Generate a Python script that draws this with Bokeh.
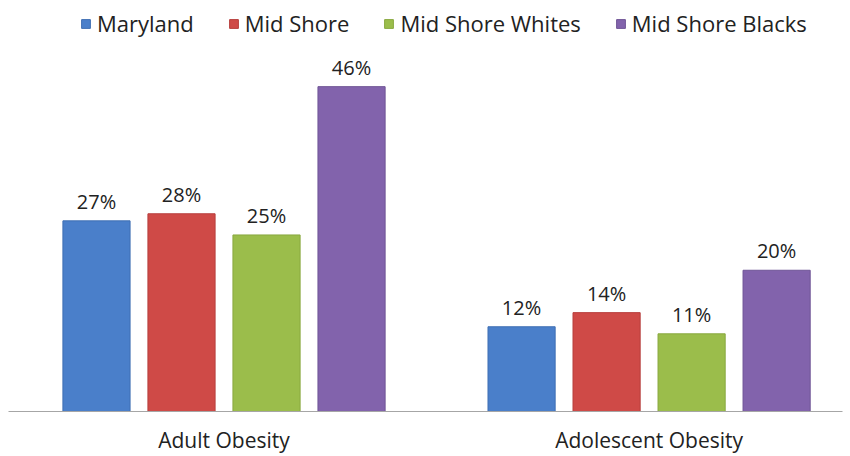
from bokeh.plotting import figure
from bokeh.models import ColumnDataSource, Range1d, FixedTicker, Legend, LegendItem, LabelSet
from bokeh.transform import dodge
from bokeh.core.properties import value
from bokeh.embed import file_html
from bokeh.resources import INLINE

categories = ["Adult Obesity", "Adolescent Obesity"]
series = ["Maryland", "Mid Shore", "Mid Shore Whites", "Mid Shore Blacks"]
maryland = [27, 12]
mid_shore = [28, 14]
mid_shore_whites = [25, 11]
mid_shore_blacks = [46, 20]
values = [maryland, mid_shore, mid_shore_whites, mid_shore_blacks]
colors = ["#4a7fca", "#cf4a47", "#9bbd4b", "#8263ac"]
line_colors = ["#3f6fb3", "#b73e3c", "#89a83f", "#6f5496"]
offsets = [-0.3, -0.1, 0.1, 0.3]

FONT = "Open Sans"

p = figure(width=850, height=456, output_backend="svg", toolbar_location=None,
           x_range=Range1d(-0.507, 1.455), y_range=Range1d(0, 58.2),
           min_border_left=8, min_border_right=8, min_border_top=0, min_border_bottom=0)
p.outline_line_color = None
p.grid.visible = False
p.yaxis.visible = False
p.background_fill_color = "white"
p.border_fill_color = "white"

xa = p.xaxis[0]
xa.ticker = FixedTicker(ticks=[0, 1])
xa.major_label_overrides = {0: categories[0], 1: categories[1]}
xa.major_tick_line_color = None
xa.minor_tick_line_color = None
xa.major_tick_out = 0
xa.major_tick_in = 0
xa.axis_line_color = "#a6a6a6"
xa.axis_line_width = 1
xa.major_label_text_font = FONT
xa.major_label_text_font_size = "21px"
xa.major_label_text_color = "#222222"
xa.major_label_standoff = 14

src = ColumnDataSource(dict(
    x=[0, 1],
    **{f"s{i}": v for i, v in enumerate(values)},
    **{f"l{i}": [f"{a}%" for a in v] for i, v in enumerate(values)},
))

items = []
for i, name in enumerate(series):
    r = p.vbar(x=dodge("x", offsets[i], range=p.x_range), top=f"s{i}", width=0.158,
               bottom=0, source=src, fill_color=colors[i], line_color=line_colors[i],
               line_width=1)
    items.append(LegendItem(label=name, renderers=[r]))
    labels = LabelSet(x=dodge("x", offsets[i], range=p.x_range), y=f"s{i}", text=f"l{i}",
                      source=src, text_align="center", text_baseline="bottom", y_offset=6,
                      text_font=value(FONT), text_font_size="20px", text_color="#222222")
    p.add_layout(labels)

legend = Legend(items=items, orientation="horizontal", location=(72, 373),
                glyph_width=11, glyph_height=11, label_standoff=6, spacing=34,
                label_text_font=FONT, label_text_font_size="22px", label_text_color="#222222",
                border_line_color=None, background_fill_alpha=0, padding=0, margin=0)
p.add_layout(legend)

open("out.html", "w").write(file_html(p, INLINE))
